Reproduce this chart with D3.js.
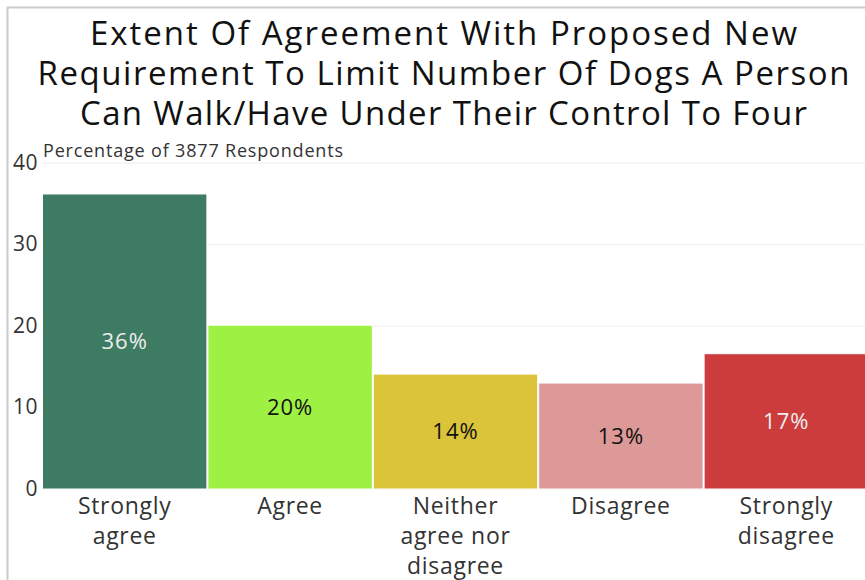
<!DOCTYPE html>
<html>
<head>
<meta charset="utf-8">
<script src="https://cdn.jsdelivr.net/npm/d3@7"></script>
<style>
html,body{margin:0;padding:0;background:#fff;overflow:hidden;}
svg{display:block;font-family:"Open Sans","Noto Sans",sans-serif;}
</style>
</head>
<body>
<svg id="chart" width="865" height="580"></svg>
<script>
const categories = ["Strongly agree", "Agree", "Neither agree nor disagree", "Disagree", "Strongly disagree"];
const categoryLines = [["Strongly","agree"],["Agree"],["Neither","agree nor","disagree"],["Disagree"],["Strongly","disagree"]];
const values = [36.2, 20.1, 14.1, 13.0, 16.6];
const valueLabels = ["36%", "20%", "14%", "13%", "17%"];
const colors = ["#3d7b62", "#9ef042", "#dbc33a", "#dc9997", "#cc3c3c"];
const labelColors = ["#eeeeee", "#111111", "#111111", "#111111", "#eeeeee"];
const yTicks = [0, 10, 20, 30, 40];
const titleLines = ["Extent Of Agreement With Proposed New", "Requirement To Limit Number Of Dogs A Person", "Can Walk/Have Under Their Control To Four"];
const subtitle = "Percentage of 3877 Respondents";

(function(){
const svg = d3.select("#chart");
const pLeft = 42, pRight = 869, pTop = 163, pBottom = 489;
const titleWidths = [707, 812, 727];

svg.append("rect").attr("x", 7.5).attr("y", 7.5).attr("width", 900).attr("height", 700)
  .attr("fill", "none").attr("stroke", "#cccccc").attr("stroke-width", 2);

const x = d3.scaleBand().domain(categories).range([pLeft, pRight]).padding(0);
const y = d3.scaleLinear().domain([0, 40]).range([pBottom, pTop]);

svg.append("g").selectAll("line").data(yTicks).join("line")
  .attr("x1", pLeft).attr("x2", 865)
  .attr("y1", d => y(d)).attr("y2", d => y(d))
  .attr("stroke", "#eeeeee").attr("stroke-width", 1);

svg.append("g").selectAll("rect").data(categories).join("rect")
  .attr("x", d => x(d) + 0.5)
  .attr("y", (d, i) => y(values[i]))
  .attr("width", x.bandwidth() - 1)
  .attr("height", (d, i) => y(0) - y(values[i]))
  .attr("fill", (d, i) => colors[i])
  .attr("stroke", "#ffffff").attr("stroke-width", 1);

svg.append("g").selectAll("text").data(categories).join("text")
  .attr("x", d => x(d) + x.bandwidth() / 2)
  .attr("y", (d, i) => (y(values[i]) + y(0)) / 2)
  .attr("dy", "0.36em")
  .attr("text-anchor", "middle")
  .attr("font-size", 22)
  .attr("letter-spacing", 1)
  .attr("fill", (d, i) => labelColors[i])
  .text((d, i) => valueLabels[i]);

const yAxis = d3.axisLeft(y).tickValues(yTicks).tickSize(0).tickPadding(4);
const yg = svg.append("g").attr("transform", `translate(${pLeft},0)`).call(yAxis);
yg.select(".domain").remove();
yg.selectAll("text").attr("font-size", 21).attr("fill", "#333").attr("font-family", "'Open Sans','Noto Sans',sans-serif")
  .attr("dy", "0.3em").attr("letter-spacing", 0.5);

const xg = svg.append("g");
categories.forEach((c, i) => {
  const cx = x(c) + x.bandwidth() / 2;
  const t = xg.append("text")
    .attr("x", cx)
    .attr("y", 514)
    .attr("text-anchor", "middle")
    .attr("font-size", 23)
    .attr("letter-spacing", 0.7)
    .attr("fill", "#333");
  categoryLines[i].forEach((ln, j) => {
    t.append("tspan").attr("x", cx).attr("y", 514 + j * 30).text(ln);
  });
});

svg.append("text").attr("x", 43).attr("y", 157).attr("font-size", 18)
  .attr("textLength", 300).attr("lengthAdjust", "spacing")
  .attr("fill", "#333").text(subtitle);

svg.append("g").selectAll("text").data(titleLines).join("text")
  .attr("x", (d, i) => 443.5 - titleWidths[i] / 2).attr("y", (d, i) => 45 + i * 40)
  .attr("font-size", 33)
  .attr("textLength", (d, i) => titleWidths[i]).attr("lengthAdjust", "spacing")
  .attr("fill", "#111")
  .style("font-weight", 500)
  .text(d => d);
})();
</script>
</body>
</html>
